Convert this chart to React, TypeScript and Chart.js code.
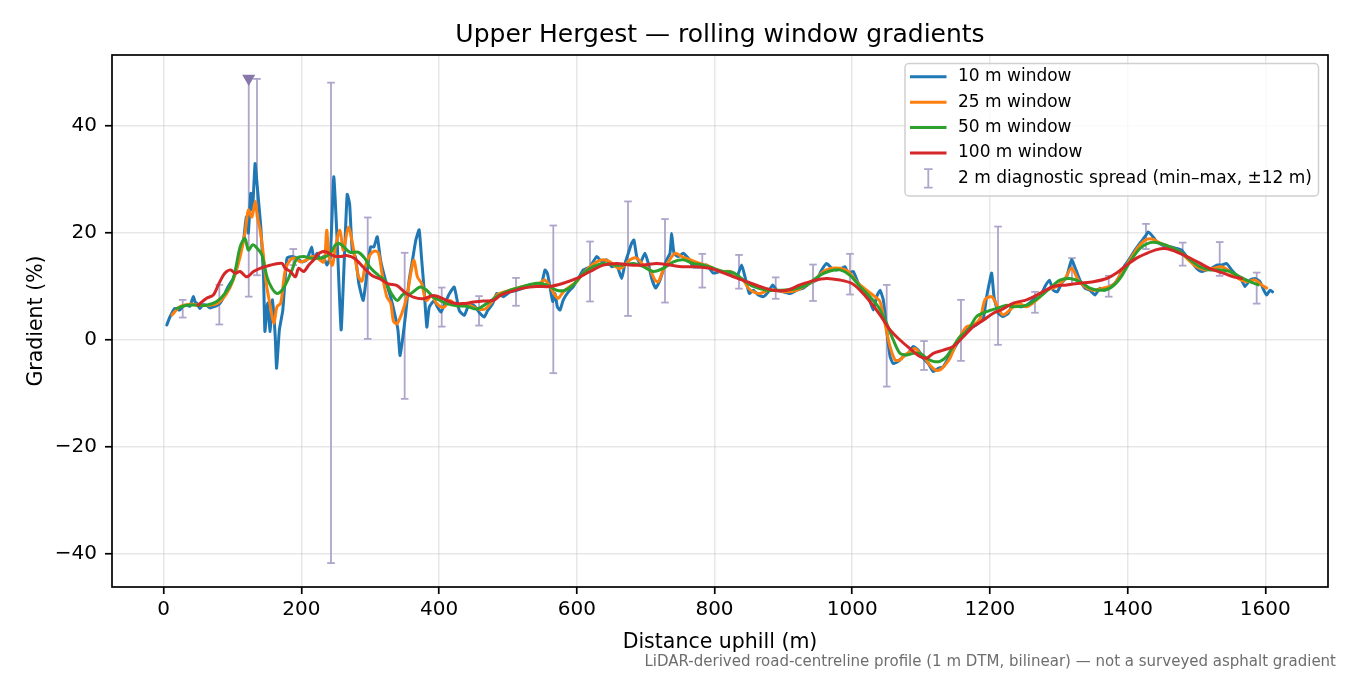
import { useEffect, useRef } from 'react';
import { Chart, registerables } from 'chart.js';

Chart.register(...registerables);

const FONT = '"DejaVu Sans", sans-serif';

const xTicks = [0, 200, 400, 600, 800, 1000, 1200, 1400, 1600];
const yTicks = [-40, -20, 0, 20, 40];

// distance (m), gradient (%)
const win10: [number, number][] = [
  [4.5, 2.8], [9, 4.3], [16, 5.9], [23, 5.6], [28, 6.3], [33, 6.5], [38, 6.3], [43, 8.1], [46, 7.0], [48, 6.9],
  [52.5, 5.9], [57, 6.6], [62, 6.5], [67, 6.0], [72, 6.2], [77, 6.4], [82, 6.9], [87, 8.0], [91, 9.3], [96, 10.5],
  [101, 11.5], [106, 13.5], [111, 16.8], [116, 18.7], [120, 23], [123, 20], [126.4, 27.4], [129, 24.3], [132.7, 33], [135, 30],
  [137.6, 26.2], [141, 21.2], [145, 11.8], [147, 1.6], [150.7, 6.9], [154.6, 1.6], [158, 7.5], [162, 0.6], [164, -5.3], [168, 1.9],
  [173, 5.6], [179, 15.3], [186, 15.6], [193.5, 15.3], [201, 14.6], [208, 15], [215, 17.4], [218, 15], [222.7, 16.2], [227.5, 15],
  [232, 15.6], [237, 14], [242, 15.6], [247, 30.5], [251.9, 18.7], [257.7, 1.9], [261.5, 12.5], [266.5, 27.2], [270, 25.5], [273.8, 16.8],
  [278.6, 15.5], [283.5, 10.5], [289.8, 7.4], [295.6, 13], [300.5, 17.4], [305.3, 17.4], [310.2, 19.3], [315, 14.9], [322.3, 11.1], [329.6, 8],
  [335.5, 4.9], [340.3, 1.8], [343.2, -2.9], [346.7, -0.1], [351.5, 4.9], [356.4, 11.1], [361.3, 14.9], [366.1, 18.6], [371, 20.6], [374.4, 15.5],
  [378.3, 9.3], [382.2, 2.4], [385.6, 6.1], [392.9, 7.4], [397.8, 6.1], [402.6, 5.2], [408.4, 6.8], [414.7, 8.6], [422, 9.9], [429.3, 5.5],
  [436.6, 4.6], [443.9, 6.8], [451.2, 6.4], [459.9, 4.9], [465.7, 4.3], [470.6, 5.5], [477.9, 6.8], [483.6, 8.7], [493.3, 8.1], [503, 9.0],
  [512.7, 9.3], [522.3, 9.7], [532, 10.3], [541.7, 10], [549, 10.6], [553.8, 13.1], [557.2, 12.5], [561, 10], [565, 7.2], [568.3, 8.7],
  [571.7, 6.2], [575.6, 5.6], [580.4, 7.5], [587.7, 9.0], [595, 10], [602.2, 11.5], [609.5, 13.1], [619.2, 13.7], [628.9, 15.6], [636.2, 14.6],
  [643.4, 15], [650.7, 13.7], [658, 14], [665.2, 11.5], [670, 14.3], [674.8, 16.2], [679.7, 18.1], [683, 18.7], [687, 15.6], [691.8, 14.3],
  [699, 16.2], [703.9, 14.3], [708.8, 11.5], [714.6, 9.7], [720.8, 11.2], [725.6, 13.1], [730.5, 15], [735.4, 16.2], [737.8, 19.9], [741.2, 16.2],
  [747.4, 15.6], [754.7, 16.2], [762, 15.3], [769.2, 13.7], [779, 13.7], [788.7, 14], [798.3, 12.5], [808, 12.8], [822.5, 12.5], [832.2, 11.8],
  [839.5, 14.0], [844.3, 11.8], [850.6, 8.7], [856.4, 9.3], [863.6, 8.4], [870.9, 8.1], [878.2, 9.0], [884.5, 10.3], [890.3, 9.3], [900, 9.0],
  [909.7, 8.7], [919.4, 9.3], [929, 9.7], [938.7, 10.6], [948.4, 11.2], [955.7, 13.1], [963, 14.3], [970.2, 13.4], [977.5, 13.1], [984.8, 13.4],
  [989.6, 13.7], [994.4, 12.5], [1001.6, 12.8], [1008.9, 10.6], [1016.1, 9.3], [1023.4, 8.1], [1030.7, 5.6], [1035.5, 8.1], [1040.4, 9.3], [1045.2, 7.5],
  [1050, 1.9], [1055, -3.1], [1059.7, -4.4], [1067, -4.0], [1074.2, -3.1], [1081.5, -2.5], [1088.7, -1.2], [1096, -1.9], [1103.3, -3.4], [1110.5, -4.4],
  [1117.8, -5.9], [1125, -5.3], [1132.3, -5.0], [1139.6, -3.4], [1146.8, -1.9], [1154, -0.3], [1161.4, 1.2], [1168.6, 2.2], [1175.9, 2.5], [1183.2, 3.1],
  [1190.4, 4.0], [1195.3, 8.1], [1199.1, 10.6], [1202.6, 12.5], [1206, 8.1], [1212.2, 5.0], [1219.4, 4.4], [1226.7, 5.0], [1234, 6.7], [1243.7, 6.2],
  [1253.4, 6.5], [1263.1, 7.5], [1272.7, 8.1], [1280, 10], [1286.3, 11.2], [1292.1, 9.3], [1297.9, 9.0], [1304.2, 10.6], [1311.5, 11.8], [1318.7, 15.0],
  [1325, 13.1], [1330.8, 11.2], [1338.1, 9.7], [1345.3, 9.3], [1352.6, 8.4], [1359.9, 9.7], [1367.1, 9.3], [1374.4, 10], [1381.7, 10.6], [1388.9, 12.1],
  [1396.2, 14.0], [1403.5, 15.3], [1410.7, 16.8], [1418, 18.1], [1425.2, 19.3], [1430.1, 20.2], [1434.9, 19.6], [1442.2, 18.4], [1449.4, 17.8], [1456.7, 17.4],
  [1464, 17.4], [1471.2, 17.1], [1478.5, 16.8], [1485.7, 15.6], [1493, 14.6], [1500.3, 13.4], [1507.5, 12.8], [1514.8, 13.1], [1522, 13.4], [1529.3, 14.0],
  [1536.6, 14.0], [1543.8, 14.3], [1551.1, 13.1], [1558.3, 12.1], [1565.6, 11.2], [1570.5, 10], [1577.7, 11.2], [1585, 11.5], [1592.2, 10.9], [1598, 9.3],
  [1601.9, 8.4], [1606.8, 9.3], [1610.7, 9.0],
];

const win25: [number, number][] = [
  [12, 4.7], [23.4, 6.2], [38, 6.7], [52.6, 6.5], [67, 6.5], [79, 6.9], [91.5, 8.7], [101, 11.2], [111, 15.6], [118, 19.9],
  [123, 24.3], [128, 23], [133, 25.9], [136, 23], [140, 20.6], [144, 16.8], [149, 10.6], [155, 6.2], [160, 3.1], [164.5, 6.2],
  [170, 6.9], [176.6, 13.1], [184, 15], [191, 15.3], [198.5, 14.6], [208, 15], [215.5, 15.6], [223, 15.3], [232.6, 14.6], [236.7, 20.5],
  [240, 15.6], [245, 14], [249.6, 17.5], [256, 20.5], [260.9, 16.8], [268.2, 21.1], [275.4, 17.2], [282.7, 12], [288, 11], [292.4, 13.7],
  [299.6, 15.9], [305.4, 16.6], [311.8, 16.3], [317, 12.5], [323.9, 8.1], [329.7, 6.9], [333.6, 3.6], [338.4, 3], [345.7, 4.9], [353, 8],
  [358.8, 12.4], [363.6, 14.9], [368.5, 11.8], [374.8, 10.5], [381.1, 7.4], [389.3, 8.3], [396.6, 6.8], [406.3, 6.1], [416, 7.4], [425.6, 6.4],
  [435.3, 6.8], [445, 6.4], [457, 5.8], [466.8, 5.8], [476.5, 7.1], [483.6, 8.4], [503, 9.3], [522.3, 10], [541.7, 10.3], [549, 10.9],
  [553.8, 11.2], [561, 10], [568.3, 8.4], [573.2, 7.8], [580.4, 9.0], [590.1, 10], [599.8, 10.9], [609.5, 12.5], [619.2, 13.7], [628.9, 14.6],
  [638.5, 15], [648.2, 14.6], [660.3, 13.4], [667.6, 13.7], [677.3, 15], [687, 15.3], [696.6, 14], [706.3, 13.1], [713.6, 11.2], [718.4, 10.9],
  [725.6, 13.1], [732.9, 14.6], [742.6, 16.2], [752.3, 15.6], [764.4, 15], [778.9, 14.3], [793.4, 13.7], [808, 12.8], [822.5, 12.8], [834.6, 11.8],
  [841.9, 11.2], [849.1, 9.7], [856.4, 9.0], [866, 8.7], [878.2, 9.3], [890.3, 9.3], [904.8, 9.0], [919.4, 9.3], [933.9, 10.3], [946, 11.2],
  [958.1, 12.8], [970.2, 13.4], [982.3, 13.4], [994.4, 12.8], [1006.5, 10.9], [1021, 9.3], [1033.1, 8.1], [1040.4, 7.2], [1047.6, 3.1], [1054.9, -1.2],
  [1062.2, -3.7], [1069.4, -3.7], [1076.7, -2.8], [1084, -2.2], [1091.2, -1.6], [1098.5, -2.5], [1105.7, -3.4], [1113, -4.7], [1120.3, -5.6], [1127.5, -5.6],
  [1134.8, -4.7], [1142, -3.4], [1149.3, -1.2], [1156.6, 0.6], [1166.2, 2.5], [1175.9, 2.8], [1185.6, 4.0], [1192.8, 7.5], [1200.1, 8.1], [1205, 7.8],
  [1212.2, 5.9], [1219.4, 4.7], [1229.1, 5.6], [1241.2, 6.9], [1253.4, 6.2], [1268, 7.5], [1282.5, 9.3], [1297, 10], [1309.1, 11.5], [1318.7, 13.4],
  [1328.4, 11.2], [1338.1, 10], [1350.2, 9.3], [1364.7, 9.7], [1379.2, 10.3], [1391.3, 12.5], [1403.5, 15], [1415.6, 17.4], [1427.7, 18.8], [1437.4, 18.8],
  [1447, 18.1], [1461.5, 17.4], [1476, 16.5], [1488.1, 15], [1500.3, 13.7], [1512.4, 13.1], [1524.5, 13.4], [1536.6, 13.7], [1548.7, 12.8], [1560.8, 11.5],
  [1572.9, 10.9], [1585, 11.2], [1594.7, 10.3], [1602, 9.7],
];

const win50: [number, number][] = [
  [18.5, 5.9], [33, 6.5], [47.7, 6.5], [62.3, 6.5], [77, 7.2], [89, 8.7], [101, 11.5], [111, 17.4], [118, 19], [123, 16.8],
  [129.5, 17.8], [136, 17.1], [142.6, 15.9], [150, 11.8], [157, 9.7], [164.5, 8.7], [171.8, 9.3], [179, 10.9], [186.4, 13.1], [193.7, 15.3],
  [203.4, 15.6], [213, 15.3], [223, 15.3], [232, 15.4], [242, 16.2], [249, 17.7], [256, 18], [263, 17.2], [270.6, 16.4], [282.7, 16.4],
  [292.4, 15.2], [299.6, 13.6], [311.7, 12.1], [321.4, 11.1], [331.1, 8.6], [339.4, 7.4], [348.1, 8.6], [357.8, 8.6], [372.3, 9.9], [382, 9.3],
  [391.7, 8], [401.3, 7.4], [411, 6.8], [425.6, 6.4], [440, 6.3], [454.6, 5.8], [469.1, 6.8], [485, 8.2], [503, 9.3], [522.3, 10],
  [541.7, 10.6], [556.2, 10.3], [570.8, 9.3], [582.9, 9.3], [595, 10.3], [609.5, 12.5], [624, 13.7], [638.5, 14.3], [653.1, 14], [667.6, 14],
  [682.1, 14.3], [696.6, 13.7], [711.2, 12.8], [725.6, 13.4], [740.2, 14.6], [754.7, 15], [769.2, 14.3], [783.7, 14], [798.3, 13.4], [812.8, 12.8],
  [827.4, 12.6], [841.9, 11.2], [856.4, 10], [875.8, 9.3], [895.1, 9.3], [914.5, 9.5], [933.9, 10.3], [953.2, 12.1], [967.7, 12.9], [982.3, 13.1],
  [996.8, 12.1], [1011.3, 10], [1025.8, 8.1], [1037.9, 6.2], [1050, 3.1], [1059.7, 0], [1069.4, -2.5], [1079.1, -2.8], [1088.7, -2.5], [1098.5, -2.5],
  [1108.1, -3.4], [1117.8, -4.0], [1127.5, -4.0], [1137.2, -3.1], [1146.8, -1.2], [1156.6, 0.6], [1168.6, 1.9], [1180.7, 4.4], [1195.3, 5.3], [1209.7, 5.9],
  [1224.3, 6.5], [1234, 6.2], [1253.4, 6.5], [1272.7, 8.1], [1287.3, 9.7], [1301.8, 11.2], [1316.3, 11.5], [1330.8, 10.9], [1345.3, 9.7], [1359.9, 9.3],
  [1374.4, 9.7], [1388.9, 11.5], [1403.5, 14.6], [1418, 17.1], [1432.5, 18.2], [1447, 18.1], [1461.5, 17.4], [1476, 16.5], [1490.6, 15], [1505.1, 13.7],
  [1519.6, 13.1], [1534.1, 13.1], [1548.7, 12.8], [1563.2, 11.8], [1577.7, 10.9], [1589.8, 10.3],
];

const win100: [number, number][] = [
  [50, 6.5], [62.3, 7.8], [72, 8.4], [79.3, 10.3], [86.6, 12.1], [91.5, 12.8], [97.3, 13.1], [103.6, 12.5], [111, 12.8], [120.7, 11.8],
  [130.4, 12.8], [140, 13.4], [150, 13.8], [162, 14.2], [171.8, 14.3], [176.6, 13.4], [184, 12.8], [191.2, 11.8], [196, 13.4], [203.4, 12.8],
  [210.7, 14], [218, 15], [222.9, 15.9], [230.2, 16.5], [237.5, 16.4], [247.2, 15.7], [257, 15.6], [265.8, 15.8], [277.9, 15.2], [290, 13.6],
  [302.1, 12.1], [314.2, 11.4], [326.3, 10.5], [338.4, 10.2], [350.5, 8.9], [362.6, 8], [377.1, 7.7], [391.7, 8.3], [406.2, 7.7], [420.8, 6.9],
  [435.3, 6.8], [449.8, 7.1], [464.4, 7.3], [478.9, 7.4], [488.5, 8.3], [503, 9.0], [522.3, 9.7], [541.7, 10], [561, 10], [580.4, 10.6],
  [599.8, 11.5], [619.2, 12.8], [638.5, 14], [658, 14.3], [677.3, 14], [696.6, 14], [716, 14.3], [735.4, 14], [754.7, 13.7], [774, 13.7],
  [793.4, 13.4], [810, 12.7], [827.4, 11.8], [846.7, 10.9], [866, 10], [885.5, 9.3], [904.8, 9.3], [924.2, 10.3], [943.6, 11.1], [963, 11.5],
  [982.3, 11.2], [999.2, 10.6], [1011.3, 9.3], [1025.8, 7.2], [1040.4, 4.7], [1055, 1.9], [1069.4, 0], [1084, -1.6], [1098.5, -3.1], [1108.1, -3.4],
  [1117.8, -2.5], [1132.3, -1.9], [1146.8, -1.2], [1161.4, 0.6], [1175.9, 2.5], [1190.4, 3.7], [1205, 5.0], [1216, 5.6], [1234, 6.9], [1253.4, 7.5],
  [1272.7, 8.7], [1292.1, 10], [1311.5, 10.3], [1330.8, 10.6], [1350.2, 10.9], [1369.6, 11.5], [1384.1, 12.5], [1398.6, 14], [1413.1, 15.3], [1427.7, 16.2],
  [1442.2, 16.9], [1454.3, 17.1], [1466.4, 16.7], [1480.9, 15.9], [1495.4, 15], [1510, 14], [1524.5, 13.1], [1539, 12.5], [1553.5, 11.8], [1565.6, 11.5],
];

// 2 m diagnostic spread (min–max within ±12 m)
const spreadX = [27.6, 80.8, 123.5, 135.5, 188.2, 243, 296.3, 350, 403.8, 458, 511.7, 565.9, 619.2, 674.4, 728.1, 782.3,
  835.6, 888.9, 943.1, 996.8, 1050.1, 1104.3, 1158, 1211.8, 1265.5, 1319.2, 1372.6, 1426.7, 1480, 1533.8, 1587.5];
const spreadLo = [4.2, 2.9, 8.1, 12.1, 14.0, -41.7, 0.2, -11.0, 2.5, 2.7, 6.4, -6.2, 7.2, 4.5, 7.0, 9.8,
  9.6, 7.7, 7.3, 8.5, -8.7, -5.6, -3.9, -0.9, 5.1, 10.5, 8.1, 17.0, 13.9, 12.0, 6.8];
const spreadHi = [7.5, 10.3, 48.9, 48.8, 17.0, 48.1, 22.9, 16.3, 9.8, 8.2, 11.6, 21.4, 18.4, 25.9, 22.6, 16.1,
  15.9, 11.7, 14.1, 16.1, 10.3, -0.2, 7.5, 21.2, 9.0, 15.3, 12.0, 21.7, 18.2, 18.3, 12.6];

const peakX = [123.5];
const peakY = [48.9];

const seriesLabels = ['10 m window', '25 m window', '50 m window', '100 m window'];
const seriesColors = ['#1f77b4', '#ff7f0e', '#2ca02c', '#d62728'];
const spreadLabel = '2 m diagnostic spread (min\u2013max, \u00b112 m)';
const spreadColor = '#afa4ca';
const peakColor = '#8878aa';

const decorPlugin = {
  id: 'decor',
  afterDraw(chart: any) {
    const { ctx, chartArea: a } = chart;
    ctx.save();

    // frame
    ctx.strokeStyle = '#000';
    ctx.lineWidth = 1.7;
    ctx.strokeRect(a.left, a.top, a.right - a.left, a.bottom - a.top);

    // title and axis labels
    ctx.fillStyle = '#000';
    ctx.textAlign = 'center';
    ctx.textBaseline = 'alphabetic';
    ctx.font = `25px ${FONT}`;
    ctx.fillText('Upper Hergest \u2014 rolling window gradients', (a.left + a.right) / 2, 42);
    ctx.font = `20.5px ${FONT}`;
    ctx.fillText('Distance uphill (m)', (a.left + a.right) / 2, 647.5);
    ctx.save();
    ctx.translate(41.5, (a.top + a.bottom) / 2);
    ctx.rotate(-Math.PI / 2);
    ctx.fillText('Gradient (%)', 0, 0);
    ctx.restore();

    // footnote
    ctx.font = `15px ${FONT}`;
    ctx.fillStyle = '#6e6e6e';
    ctx.textAlign = 'right';
    ctx.fillText('LiDAR-derived road-centreline profile (1 m DTM, bilinear) \u2014 not a surveyed asphalt gradient', 1336, 666);

    // legend
    const bx = 905, by = 63.5, bw = 413.5, bh = 132.5;
    ctx.beginPath();
    ctx.roundRect(bx, by, bw, bh, 4);
    ctx.fillStyle = 'rgba(255,255,255,0.8)';
    ctx.fill();
    ctx.strokeStyle = '#d0d0d0';
    ctx.lineWidth = 1.5;
    ctx.stroke();

    ctx.font = `17px ${FONT}`;
    ctx.textAlign = 'left';
    ctx.textBaseline = 'middle';
    const rowY = (i: number) => 76.8 + i * 25.4;
    seriesLabels.forEach((label, i) => {
      const y = rowY(i);
      ctx.strokeStyle = seriesColors[i];
      ctx.lineWidth = 3;
      ctx.beginPath();
      ctx.moveTo(910, y);
      ctx.lineTo(946.5, y);
      ctx.stroke();
      ctx.fillStyle = '#000';
      ctx.fillText(label, 958, y);
    });
    const ey = rowY(4);
    ctx.strokeStyle = spreadColor;
    ctx.lineWidth = 1.8;
    ctx.beginPath();
    ctx.moveTo(928.3, ey - 9.3);
    ctx.lineTo(928.3, ey + 9.3);
    ctx.moveTo(924, ey - 9.3);
    ctx.lineTo(932.6, ey - 9.3);
    ctx.moveTo(924, ey + 9.3);
    ctx.lineTo(932.6, ey + 9.3);
    ctx.stroke();
    ctx.fillStyle = '#000';
    ctx.fillText(spreadLabel, 958, ey);

    ctx.restore();
  },
};

export default function App() {
  const canvasRef = useRef<HTMLCanvasElement | null>(null);
  const chartRef = useRef<Chart | null>(null);

  useEffect(() => {
    if (!canvasRef.current) return;
    const ctx = canvasRef.current.getContext('2d');
    if (!ctx) return;

    const lineSets = [win10, win25, win50, win100].map((series, i) => ({
      type: 'line',
      label: seriesLabels[i],
      data: series.map(([x, y]) => ({ x, y })),
      borderColor: seriesColors[i],
      backgroundColor: seriesColors[i],
      borderWidth: 3,
      borderJoinStyle: 'round',
      borderCapStyle: 'round',
      pointRadius: 0,
      tension: i === 0 ? 0.15 : 0.3,
      order: 4 - i,
    }));

    const spreadPoints = spreadX.flatMap((x, i) => [
      { x, y: spreadLo[i] },
      { x, y: spreadHi[i] },
      { x, y: null },
    ]);

    const datasets: any[] = [
      ...lineSets,
      {
        type: 'line',
        label: spreadLabel,
        data: spreadPoints,
        borderColor: spreadColor,
        borderWidth: 1.8,
        spanGaps: false,
        pointStyle: 'line',
        pointRadius: 3.8,
        pointBorderColor: spreadColor,
        pointBorderWidth: 1.8,
        pointBackgroundColor: spreadColor,
        order: 5,
      },
      {
        type: 'line',
        label: 'peak',
        data: peakX.map((x, i) => ({ x, y: peakY[i] })),
        showLine: false,
        pointStyle: 'triangle',
        rotation: 180,
        pointRadius: 7.5,
        pointBackgroundColor: peakColor,
        pointBorderColor: peakColor,
        pointBorderWidth: 0,
        order: -1,
      },
    ];

    const tickFont = { family: FONT, size: 20 };
    const gridOpts = {
      color: 'rgba(176,176,176,0.3)',
      lineWidth: 1.5,
      tickColor: '#000',
      tickLength: 7,
      tickWidth: 1.7,
      drawTicks: true,
    };

    chartRef.current = new Chart(ctx, {
      type: 'line',
      data: { datasets },
      plugins: [decorPlugin],
      options: {
        responsive: true,
        maintainAspectRatio: false,
        animation: false,
        events: [],
        layout: { padding: { left: 0, right: 22, top: 55, bottom: 0 } },
        plugins: {
          legend: { display: false },
          tooltip: { enabled: false },
          title: { display: false },
        },
        scales: {
          x: {
            type: 'linear',
            min: -75.1,
            max: 1691.1,
            afterBuildTicks: (s: any) => {
              s.ticks = xTicks.map((v) => ({ value: v }));
            },
            afterFit: (s: any) => {
              s.height = 88;
            },
            grid: gridOpts,
            border: { display: false },
            ticks: {
              color: '#000',
              font: tickFont,
              padding: 4,
              maxRotation: 0,
              autoSkip: false,
              callback: (v: any) => String(v),
            },
          },
          y: {
            type: 'linear',
            min: -46.17,
            max: 53.27,
            afterBuildTicks: (s: any) => {
              s.ticks = yTicks.map((v) => ({ value: v }));
            },
            afterFit: (s: any) => {
              s.width = 112;
            },
            grid: gridOpts,
            border: { display: false },
            ticks: {
              color: '#000',
              font: tickFont,
              padding: 8,
              autoSkip: false,
              callback: (v: any) => (v < 0 ? '\u2212' + Math.abs(v) : String(v)),
            },
          },
        },
      } as any,
    });

    return () => {
      if (chartRef.current) {
        chartRef.current.destroy();
        chartRef.current = null;
      }
    };
  }, []);

  return (
    <div style={{ position: 'absolute', left: 0, top: 0, width: 1350, height: 675, background: '#fff' }}>
      <canvas ref={canvasRef}></canvas>
    </div>
  );
}
